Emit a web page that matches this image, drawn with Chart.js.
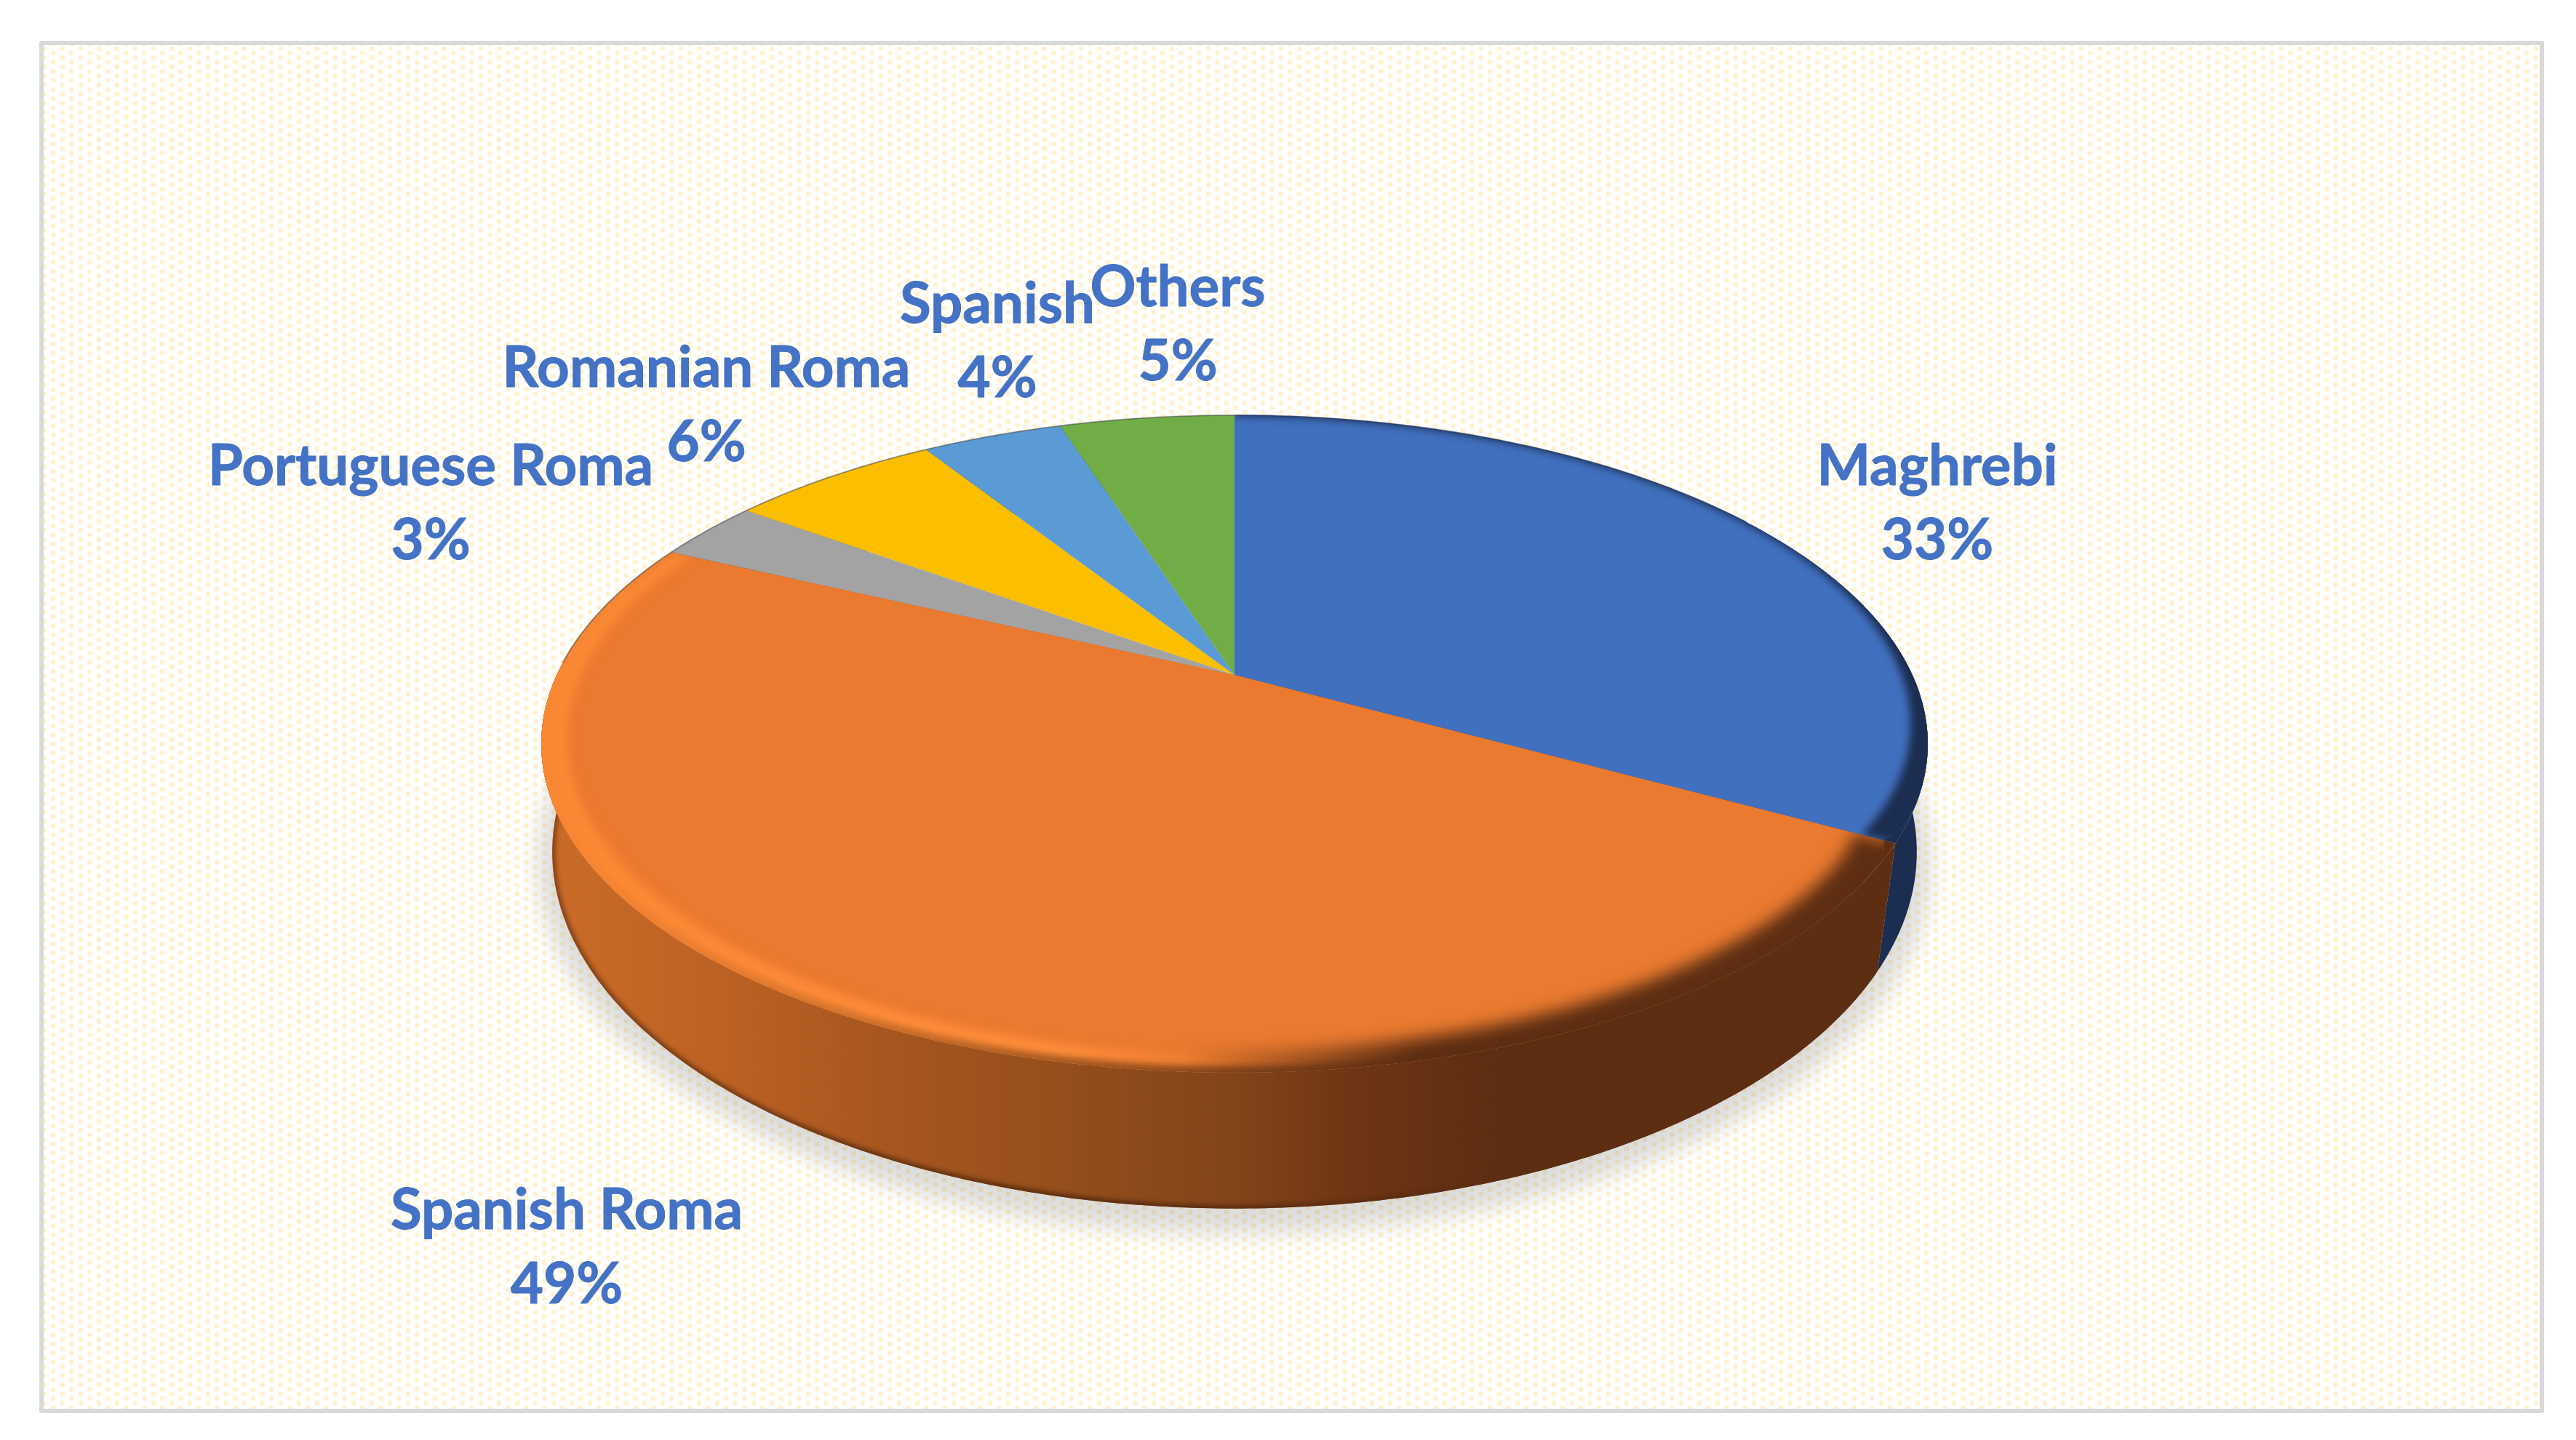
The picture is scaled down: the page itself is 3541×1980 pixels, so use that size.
<!DOCTYPE html>
<html><head><meta charset="utf-8">
<style>html,body{margin:0;padding:0;background:#fff}canvas{display:block}</style>
<script src="https://cdn.jsdelivr.net/npm/chart.js@4/dist/chart.umd.js"></script>
</head><body>
<canvas id="c" width="3541" height="1980"></canvas>
<script>
const categories = ['Maghrebi','Spanish Roma','Portuguese Roma','Romanian Roma','Spanish','Others'];
const shares = [33,49,3,6,4,5];
const sliceColors = ['#4170BF','#EA7A2F','#A3A3A3','#FBBF00','#5B9BD5','#70AD47'];

const labelAnchors = [[2663,642],[779,1665],[592,642],[971,507],[1371,419],[1619,396]];
const LINE_GAP = 102;
const TOP = {a:1.004,b:0.4655,k:0.21,dy:0};
const BOTTOM = {a:0.995,b:0.512,k:0.175,dy:0.170};
const FONT = 'bold 78px Lato, Carlito, sans-serif';
const TEXT_COLOR = '#4472C4';
const NAVY_WALL = '#1B2D50';
const BROWN_WALL = '#5D2E12';

function project(arc,d,theta,r){
  const R=arc.outerRadius,u=r*Math.sin(theta),v=-r*Math.cos(theta),den=1-d.k*v;
  return [arc.x+R*d.a*u/den, arc.y+R*d.dy+R*d.b*v/den];
}
function trace(ctx,arc,d,t0,t1,rf,first){
  const n=Math.max(2,Math.ceil(Math.abs(t1-t0)/0.01));
  for(let i=0;i<=n;i++){
    const t=t0+(t1-t0)*i/n,r=typeof rf==='function'?rf(t):rf;
    const p=project(arc,d,t,r);
    if(i===0&&first)ctx.moveTo(p[0],p[1]);else ctx.lineTo(p[0],p[1]);
  }
}
function angles(arc){return [arc.startAngle+Math.PI/2,arc.endAngle+Math.PI/2];}
// the bevelled corner where the two big slices meet the front of the wall
function cornerAngle(chart){return angles(chart.getDatasetMeta(0).data[0])[1];}
function faceRadius(corner){return t=>1-0.017*Math.exp(-Math.abs(t-corner)/0.03);}
function sector(ctx,arc,d,rf){
  const [a,b]=angles(arc);
  ctx.beginPath();
  const c=project(arc,d,0,0);ctx.moveTo(c[0],c[1]);
  trace(ctx,arc,d,a,b,rf,false);
  ctx.closePath();
}
function hline(ctx,stops){
  const g=ctx.createLinearGradient(0,0,3541,0);
  stops.forEach(s=>g.addColorStop(s[0]/3541,s[1]));
  return g;
}
function band(ctx,arc,t0,t1,wf,fill,blur,rf){
  ctx.save();
  sector(ctx,arc,TOP,rf);ctx.clip();
  ctx.filter='blur('+blur+'px)';
  ctx.fillStyle=fill;
  ctx.beginPath();
  trace(ctx,arc,TOP,t0,t1,1.05,true);
  trace(ctx,arc,TOP,t1,t0,t=>1-wf(t),false);
  ctx.closePath();ctx.fill();
  ctx.restore();
}
function darken(hex,f){
  const n=parseInt(hex.slice(1),16);
  return 'rgb('+[(n>>16)&255,(n>>8)&255,n&255].map(c=>Math.round(c*f)).join(',')+')';
}
const pie3d={
  id:'pie3d',
  beforeDraw(chart){
    const ctx=chart.ctx;
    const tile=document.createElement('canvas');tile.width=25;tile.height=25;
    const t=tile.getContext('2d');
    t.fillStyle='#fff';t.fillRect(0,0,25,25);
    t.fillStyle='#FFF2CC';
    [[6.25,6.25],[6.25,18.75],[18.75,0],[18.75,12.5],[18.75,25]].forEach(p=>t.fillRect(p[0]-3,p[1]-3,6,6));
    ctx.save();
    ctx.fillStyle='#fff';ctx.fillRect(0,0,3541,1980);
    ctx.beginPath();ctx.rect(60,62,3431,1875);ctx.clip();
    const pat=ctx.createPattern(tile,'repeat');
    pat.setTransform(new DOMMatrix().translate(67.05,66.75));
    ctx.fillStyle=pat;ctx.fillRect(60,62,3431,1875);
    ctx.restore();
    ctx.save();
    ctx.strokeStyle='#D9D9D9';ctx.lineWidth=6;ctx.lineJoin='round';
    ctx.strokeRect(57,59,3437,1881);
    ctx.restore();
  },
  beforeDatasetDraw(chart){
    const ctx=chart.ctx,arcs=chart.getDatasetMeta(0).data;
    const order=[5,4,3,2,0,1];
    const a0=arcs[0];
    const rf=faceRadius(cornerAngle(chart));
    // ground shadow
    ctx.save();
    ctx.filter='blur(16px)';
    ctx.fillStyle='rgba(95,95,95,0.22)';
    ctx.beginPath();
    const shadow={a:BOTTOM.a*1.02,b:BOTTOM.b*1.04,k:BOTTOM.k,dy:BOTTOM.dy+0.012};
    trace(ctx,a0,shadow,0,2*Math.PI,1,true);
    ctx.closePath();ctx.fill();
    ctx.restore();
    // side walls
    for(const i of order){
      const arc=arcs[i],[a,b]=angles(arc);
      ctx.beginPath();
      trace(ctx,arc,TOP,a,b,1,true);
      trace(ctx,arc,BOTTOM,b,a,1,false);
      ctx.closePath();
      if(i===1){
        ctx.fillStyle=hline(ctx,[[740,'#CB6C28'],[1000,'#BC6124'],[1200,'#A8571F'],[1400,'#9A501C'],[1700,'#82441A'],[1850,'#703514'],[2050,BROWN_WALL],[2700,BROWN_WALL]]);
      }else if(i===0){ctx.fillStyle=NAVY_WALL;}
      else ctx.fillStyle=darken(sliceColors[i],0.45);
      ctx.fill();
    }
    // dark rim at the foot of the wall
    ctx.save();
    ctx.beginPath();
    trace(ctx,a0,TOP,a0.endAngle+Math.PI/2,arcs[1].endAngle+Math.PI/2,1,true);
    trace(ctx,a0,BOTTOM,arcs[1].endAngle+Math.PI/2,a0.endAngle+Math.PI/2,1,false);
    ctx.closePath();ctx.clip();
    ctx.filter='blur(3px)';
    ctx.strokeStyle=hline(ctx,[[740,'rgba(90,45,15,0.65)'],[1500,'rgba(80,40,14,0.9)'],[2050,'rgba(93,46,18,0.9)']]);
    ctx.lineWidth=9;
    ctx.beginPath();
    trace(ctx,a0,BOTTOM,a0.endAngle+Math.PI/2,arcs[1].endAngle+Math.PI/2,1,true);
    ctx.stroke();
    ctx.restore();
    // solid backing under the rounded corner of the faces
    sector(ctx,arcs[0],TOP,1);ctx.fillStyle=NAVY_WALL;ctx.fill();
    sector(ctx,arcs[1],TOP,1);ctx.fillStyle=BROWN_WALL;ctx.fill();
    // top faces
    arcs.forEach((arc,i)=>{
      sector(ctx,arc,TOP,rf);
      ctx.fillStyle=sliceColors[i];ctx.fill();
    });
    // bevels
    const [ba,bb]=angles(arcs[0]);
    const [oa,ob]=angles(arcs[1]);
    band(ctx,arcs[0],ba,bb,t=>0.004+0.042*Math.pow(Math.max(0,(t-0.6)/(bb-0.6)),3),NAVY_WALL,6,rf);
    band(ctx,arcs[1],oa,ob,()=>0.036,hline(ctx,[[740,'#FB8834'],[1450,'#FF8E3C'],[1720,'rgba(255,140,55,0)']]),7,rf);
    band(ctx,arcs[1],oa,ob,()=>0.012,hline(ctx,[[740,'rgba(203,108,40,0)'],[1000,'rgba(188,97,36,0.35)'],[1400,'rgba(154,80,28,0.8)'],[1700,'#82441A']]),5,rf);
    band(ctx,arcs[1],oa,ob,t=>0.045+0.012*Math.exp(-(t-oa)/0.06),hline(ctx,[[1620,'rgba(93,46,18,0)'],[1950,'rgba(93,46,18,1)'],[2700,'rgba(93,46,18,1)']]),11,rf);
    // fine rim on the far edge
    ctx.save();
    ctx.strokeStyle='rgba(85,85,85,0.55)';ctx.lineWidth=2;
    ctx.beginPath();
    trace(ctx,a0,TOP,ob-0.4,2*Math.PI,1,true);
    ctx.stroke();
    ctx.beginPath();
    trace(ctx,a0,TOP,0,1.0,1,true);
    ctx.strokeStyle='rgba(40,60,100,0.7)';ctx.stroke();
    ctx.restore();
    return false;
  },
  afterDatasetsDraw(chart){
    const ctx=chart.ctx;
    ctx.save();
    ctx.font=FONT;ctx.fillStyle=TEXT_COLOR;ctx.strokeStyle=TEXT_COLOR;ctx.lineWidth=1;ctx.lineJoin='round';
    ctx.textAlign='center';ctx.textBaseline='middle';
    const put=(s,x,y)=>{ctx.strokeText(s,x,y);ctx.fillText(s,x,y);};
    categories.forEach((name,i)=>{
      const [x,y]=labelAnchors[i];
      put(name,x,y);
      put(shares[i]+'%',x,y+LINE_GAP);
    });
    ctx.restore();
  }
};
new Chart(document.getElementById('c'),{
  type:'pie',
  data:{labels:categories,datasets:[{data:shares,backgroundColor:sliceColors,borderWidth:0}]},
  options:{responsive:false,animation:false,devicePixelRatio:1,
    layout:{padding:{right:147,bottom:124}},
    plugins:{legend:{display:false},tooltip:{enabled:false}}},
  plugins:[pie3d]
});
</script>
</body></html>
